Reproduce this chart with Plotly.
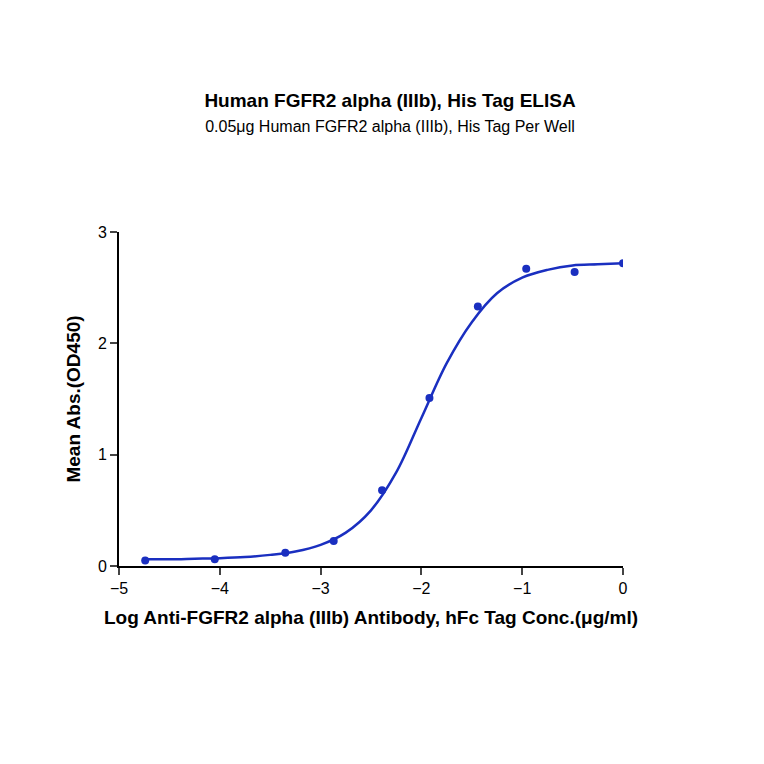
import plotly.graph_objects as go

# measured points
log_conc = [-4.74, -4.05, -3.35, -2.87, -2.39, -1.92, -1.44, -0.96, -0.48, 0.0]
mean_abs = [0.05, 0.06, 0.12, 0.225, 0.68, 1.51, 2.33, 2.67, 2.64, 2.72]

# fitted curve
fit_x = [-4.75, -4.5, -4.25, -4.0, -3.75, -3.5, -3.25, -3.0, -2.75, -2.5,
         -2.25, -2.0, -1.75, -1.5, -1.25, -1.0, -0.75, -0.5, -0.25, 0.0]
fit_y = [0.06, 0.06, 0.065, 0.07, 0.08, 0.10, 0.13, 0.19, 0.30, 0.50,
         0.84, 1.33, 1.82, 2.19, 2.45, 2.59, 2.66, 2.70, 2.71, 2.72]

blue = '#1a2fc0'
fig = go.Figure()
fig.add_trace(go.Scatter(x=fit_x, y=fit_y, mode='lines', line=dict(color=blue, width=2.5, shape='spline')))
fig.add_trace(go.Scatter(x=log_conc, y=mean_abs, mode='markers', marker=dict(color=blue, size=8)))

fig.update_layout(
    width=764, height=764, showlegend=False,
    plot_bgcolor='white', paper_bgcolor='white',
    font=dict(family='Arial', color='black'),
    margin=dict(l=111, r=149, t=224, b=206),
    title=dict(text='<b>Human FGFR2 alpha (IIIb), His Tag ELISA</b><br>'
                    '<span style="font-size:16px">0.05μg Human FGFR2 alpha (IIIb), His Tag Per Well</span>',
               x=0.5, xanchor='center', y=0.87, yanchor='top', font=dict(size=19)),
    xaxis=dict(range=[-5, 0], tickvals=[-5, -4, -3, -2, -1, 0], showline=True, linecolor='black',
               linewidth=2, ticks='outside', tickwidth=2, ticklen=7, showgrid=False, zeroline=False,
               tickfont=dict(size=16), title=dict(text='<b>Log Anti-FGFR2 alpha (IIIb) Antibody, hFc Tag Conc.(μg/ml)</b>',
                                                   font=dict(size=19), standoff=14)),
    yaxis=dict(range=[0, 3], tickvals=[0, 1, 2, 3], showline=True, linecolor='black',
               linewidth=2, ticks='outside', tickwidth=2, ticklen=7, showgrid=False, zeroline=False,
               tickfont=dict(size=16), title=dict(text='<b>Mean Abs.(OD450)</b>', font=dict(size=19), standoff=12)),
)
fig.write_html("out.html")
